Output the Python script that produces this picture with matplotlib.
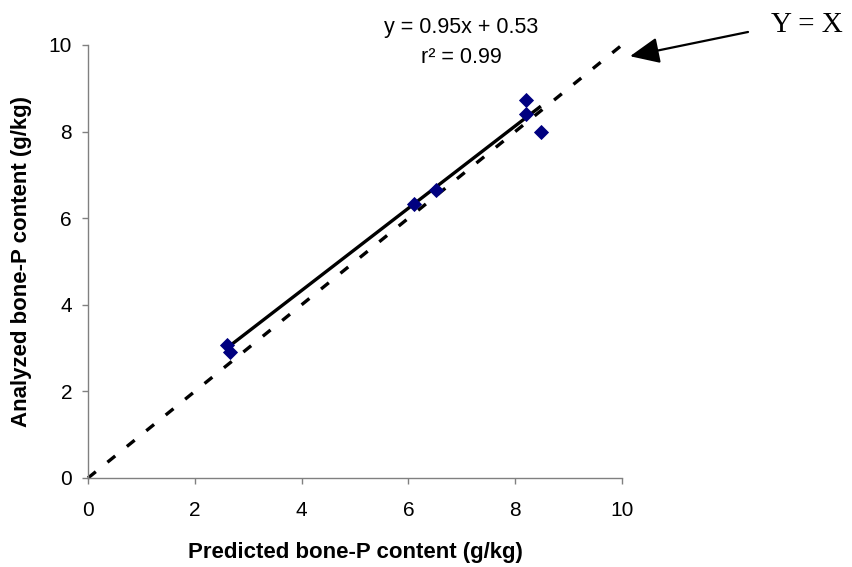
import matplotlib
matplotlib.use("Agg")
import matplotlib.pyplot as plt

plt.rcParams["font.family"] = ["Liberation Sans", "DejaVu Sans"]

# Predicted vs analyzed bone-P content (g/kg)
predicted = [2.61, 2.65, 6.10, 6.51, 8.20, 8.20, 8.48]
analyzed = [3.08, 2.90, 6.33, 6.65, 8.73, 8.41, 7.99]

# Fitted regression coefficients
slope = 0.95
intercept = 0.53
r_squared = 0.99

# Identity line endpoints
identity = [0, 10]

axis_ticks = [0, 2, 4, 6, 8, 10]

fig = plt.figure(figsize=(8.53, 5.67), dpi=100)
ax = fig.add_axes([0.1032, 0.157, 0.626, 0.7637])

# y = x reference line
ax.plot(identity, identity, color="black", lw=2.4, linestyle=(0, (3, 4.5)),
        dash_capstyle="butt", clip_on=False, zorder=2)

# regression line across the range of predicted values
x_fit = [min(predicted), max(predicted)]
y_fit = [slope * v + intercept for v in x_fit]
ax.plot(x_fit, y_fit, color="black", lw=2.4, solid_capstyle="butt", zorder=3)

# observations
ax.plot(predicted, analyzed, linestyle="none", marker="D", ms=7.2,
        color="#000080", markeredgecolor="#000080", markeredgewidth=0.6,
        zorder=4, clip_on=False)

ax.set_xlim(0, 10)
ax.set_ylim(0, 10)
ax.set_xticks(axis_ticks)
ax.set_yticks(axis_ticks)
ax.set_xticklabels([str(t) for t in axis_ticks])
ax.set_yticklabels([str(t) for t in axis_ticks])

for side in ("top", "right"):
    ax.spines[side].set_visible(False)
for side in ("left", "bottom"):
    ax.spines[side].set_color("#808080")
    ax.spines[side].set_linewidth(1.0)

ax.tick_params(axis="both", direction="out", color="#808080", width=1.0,
               length=4.5, labelsize=15)
ax.tick_params(axis="x", pad=12)
ax.tick_params(axis="y", pad=7)

ax.set_xlabel("Predicted bone-P content (g/kg)", fontsize=16,
              fontweight="bold", labelpad=16)
ax.set_ylabel("Analyzed bone-P content (g/kg)", fontsize=16,
              fontweight="bold", labelpad=12)

# regression equation
ax.text(6.99, 10.40, f"y = {slope:.2f}x + {intercept:.2f}", fontsize=15.5,
        ha="center", va="center", clip_on=False)
ax.text(7.0, 9.71, f"r² = {r_squared:.2f}", fontsize=15.5,
        ha="center", va="center", clip_on=False)

# label for the identity line
ax.text(13.46, 10.46, "Y = X", fontsize=21, family="Liberation Serif",
        ha="center", va="center", clip_on=False)
ax.annotate("", xy=(10.15, 9.74), xytext=(12.36, 10.30),
            xycoords="data", textcoords="data", annotation_clip=False,
            arrowprops=dict(arrowstyle="-|>,head_length=0.9,head_width=0.4",
                            color="black", lw=1.6, shrinkA=0, shrinkB=0,
                            mutation_scale=20))

fig.savefig("out.png", dpi=100)
